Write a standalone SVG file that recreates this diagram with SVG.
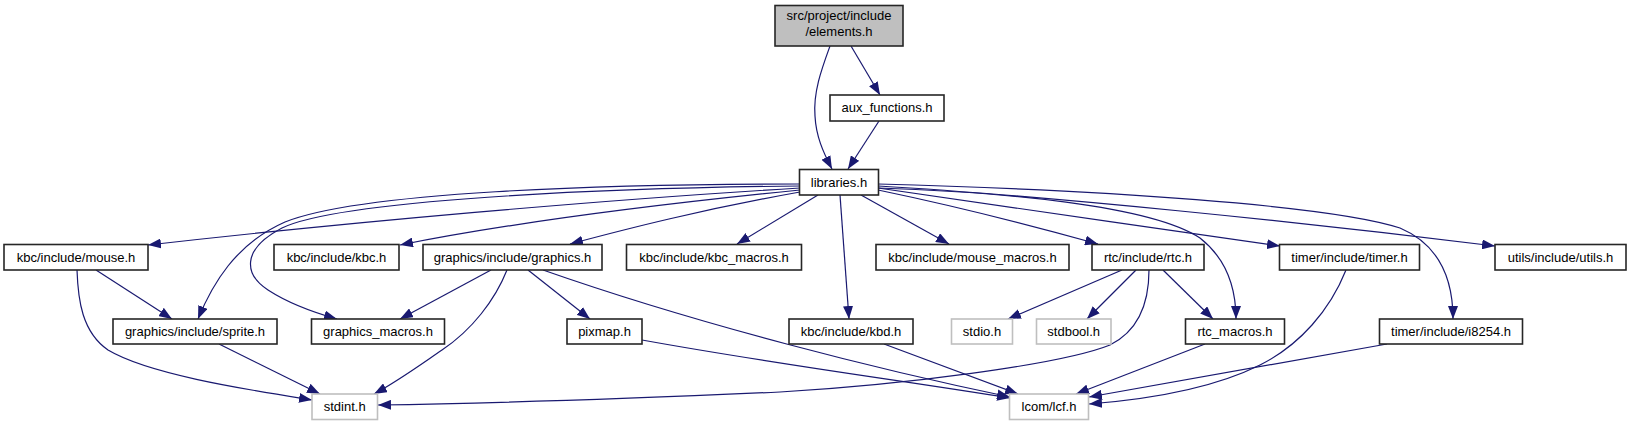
<svg xmlns="http://www.w3.org/2000/svg" width="1631" height="425" viewBox="0 0 1631 425">
<defs>
<marker id="ah" markerUnits="userSpaceOnUse" markerWidth="13" markerHeight="10" viewBox="0 0 13 10" refX="13" refY="5" orient="auto">
<path d="M0,0 L13,5 L0,10 z" fill="#191970"/>
</marker>
</defs>
<style>
.n rect{fill:#ffffff;stroke:#262626;stroke-width:1.6}
.g rect{fill:#ffffff;stroke:#bfbfbf;stroke-width:1.6}
.top rect{fill:#bfbfbf;stroke:#262626;stroke-width:1.6}
text{font-family:"Liberation Sans",Arial,sans-serif;font-size:13px;fill:#000;text-anchor:middle}
.e path{fill:none;stroke:#191970;stroke-width:1.2;marker-end:url(#ah)}
</style>
<rect width="1631" height="425" fill="#ffffff"/>
<g class="e" id="edges">
<path d="M830,46 C822,68 813,92 815,116 C816,136 823,152 832,169"/>
<path d="M851,46 L880,95"/>
<path d="M879,121 L848,169"/>
<path d="M800,188 C600,200 350,222 148,245"/>
<path d="M800,190 C650,205 500,225 400,245"/>
<path d="M800,192 C700,210 630,228 570,244"/>
<path d="M818,195 L737,244"/>
<path d="M840,195 L849,319"/>
<path d="M861,195 L949,244"/>
<path d="M878,190 C950,205 1030,225 1098,244"/>
<path d="M878,188 C1000,205 1150,228 1280,246"/>
<path d="M878,186 C1050,196 1300,222 1495,246"/>
<path d="M800,184 C600,184 360,192 285,222 C235,244 212,285 198,319"/>
<path d="M800,186 C600,188 340,200 282,228 C240,250 245,275 268,290 C288,303 312,312 337,319"/>
<path d="M878,188 C1000,192 1150,205 1200,238 C1228,260 1236,290 1236,319"/>
<path d="M878,184 C1100,190 1330,205 1400,228 C1440,245 1453,280 1453,319"/>
<path d="M96,270 L172,319"/>
<path d="M77,270 C78,300 82,332 108,350 C150,375 250,390 312,400"/>
<path d="M219,344 L320,394"/>
<path d="M491,270 L400,319"/>
<path d="M507,270 C495,300 472,330 442,350 C420,365 398,381 374,394"/>
<path d="M528,270 L590,319"/>
<path d="M543,270 C700,325 880,370 1010,397"/>
<path d="M642,340 C780,365 900,380 1010,398"/>
<path d="M884,344 L1018,394"/>
<path d="M1122,270 L1008,319"/>
<path d="M1136,270 L1087,319"/>
<path d="M1163,270 L1213,319"/>
<path d="M1149,270 C1149,300 1140,330 1110,345 C1060,365 900,385 780,392 C600,400 450,404 378,405"/>
<path d="M1205,344 L1076,394"/>
<path d="M1387,344 L1089,397"/>
<path d="M1346,270 C1330,310 1300,345 1260,365 C1210,390 1140,400 1089,404"/>
</g>
<g id="elements_h" class="top"><rect x="775" y="5.5" width="128" height="40.5"/><text x="839" y="20">src/project/include</text><text x="839" y="36">/elements.h</text></g>
<g id="aux_functions_h" class="n"><rect x="830" y="95" width="114" height="26"/><text x="887" y="112">aux_functions.h</text></g>
<g id="libraries_h" class="n"><rect x="799.5" y="169.5" width="79" height="25.5"/><text x="839" y="186.5">libraries.h</text></g>
<g id="mouse_h" class="n"><rect x="4" y="244.5" width="144" height="25.5"/><text x="76" y="261.5">kbc/include/mouse.h</text></g>
<g id="kbc_h" class="n"><rect x="274" y="244.5" width="125" height="25.5"/><text x="336.5" y="261.5">kbc/include/kbc.h</text></g>
<g id="graphics_h" class="n"><rect x="423" y="244.5" width="179" height="25.5"/><text x="512.5" y="261.5">graphics/include/graphics.h</text></g>
<g id="kbc_macros_h" class="n"><rect x="626.5" y="244.5" width="175" height="25.5"/><text x="714" y="261.5">kbc/include/kbc_macros.h</text></g>
<g id="mouse_macros_h" class="n"><rect x="876" y="244.5" width="193" height="25.5"/><text x="972.5" y="261.5">kbc/include/mouse_macros.h</text></g>
<g id="rtc_h" class="n"><rect x="1092" y="244.5" width="112" height="25.5"/><text x="1148" y="261.5">rtc/include/rtc.h</text></g>
<g id="timer_h" class="n"><rect x="1279.5" y="244.5" width="140" height="25.5"/><text x="1349.5" y="261.5">timer/include/timer.h</text></g>
<g id="utils_h" class="n"><rect x="1495" y="244.5" width="131" height="25.5"/><text x="1560.5" y="261.5">utils/include/utils.h</text></g>
<g id="sprite_h" class="n"><rect x="113" y="319" width="164" height="25"/><text x="195" y="336">graphics/include/sprite.h</text></g>
<g id="graphics_macros_h" class="n"><rect x="311.5" y="319" width="133" height="25"/><text x="378" y="336">graphics_macros.h</text></g>
<g id="pixmap_h" class="n"><rect x="567" y="319" width="75" height="25"/><text x="604.5" y="336">pixmap.h</text></g>
<g id="kbd_h" class="n"><rect x="789" y="319" width="124" height="25"/><text x="851" y="336">kbc/include/kbd.h</text></g>
<g id="stdio_h" class="g"><rect x="951.5" y="319" width="61" height="25"/><text x="982" y="336">stdio.h</text></g>
<g id="stdbool_h" class="g"><rect x="1036.5" y="319" width="74.5" height="25"/><text x="1073.7" y="336">stdbool.h</text></g>
<g id="rtc_macros_h" class="n"><rect x="1185.5" y="319" width="99" height="25"/><text x="1235" y="336">rtc_macros.h</text></g>
<g id="i8254_h" class="n"><rect x="1379.5" y="319" width="143" height="25"/><text x="1451" y="336">timer/include/i8254.h</text></g>
<g id="stdint_h" class="g"><rect x="312" y="394" width="65.5" height="25.5"/><text x="344.7" y="411">stdint.h</text></g>
<g id="lcf_h" class="g"><rect x="1009.5" y="394" width="79" height="25.5"/><text x="1049" y="411">lcom/lcf.h</text></g>
</svg>
